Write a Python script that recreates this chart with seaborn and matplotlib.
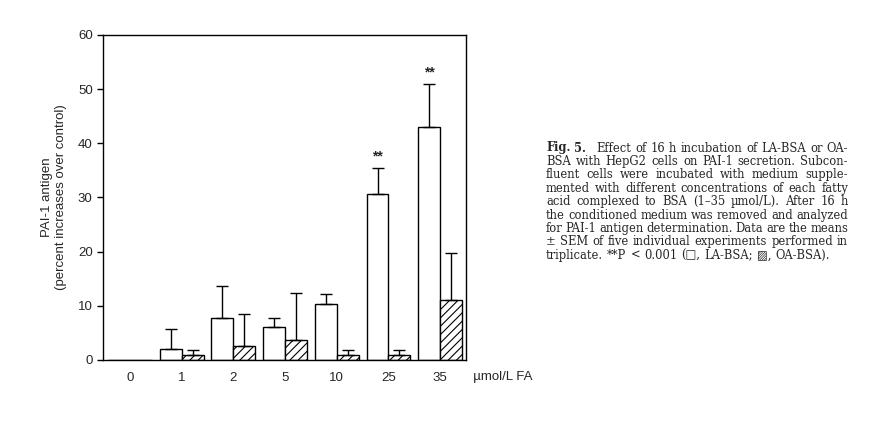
import pandas as pd
import matplotlib
matplotlib.use("Agg")
import matplotlib.pyplot as plt
import seaborn as sns

# data
conc = ["0", "1", "2", "5", "10", "25", "35"]
la_mean = [0, 2.0, 7.7, 6.0, 10.4, 30.6, 43.0]
la_sem = [0, 3.8, 5.9, 1.8, 1.8, 4.8, 7.9]
oa_mean = [0, 1.0, 2.6, 3.7, 1.0, 1.0, 11.1]
oa_sem = [0, 0.9, 5.8, 8.7, 0.9, 0.9, 8.7]
signif = ["", "", "", "", "", "**", "**"]

df = pd.DataFrame({
    "conc": conc * 2,
    "value": la_mean + oa_mean,
    "fa": ["LA-BSA"] * len(conc) + ["OA-BSA"] * len(conc),
})

sns.set_theme(style="ticks")
plt.rcParams["font.family"] = ["Liberation Sans", "DejaVu Sans"]
plt.rcParams["hatch.linewidth"] = 0.8

fig = plt.figure(figsize=(8.81, 4.21), dpi=100)
ax = fig.add_axes([0.117, 0.145, 0.412, 0.772])

sns.barplot(data=df, x="conc", y="value", hue="fa", order=conc,
            palette=["white", "white"], edgecolor="black", linewidth=1.0,
            width=0.85, errorbar=None, legend=False, ax=ax)

# hatch the OA-BSA bars, add one-sided error bars
for cont, sems, hatch in zip(ax.containers, [la_sem, oa_sem], ["", "////"]):
    xs, tops, errs = [], [], []
    for bar, e in zip(cont, sems):
        bar.set_hatch(hatch)
        if e > 0:
            xs.append(bar.get_x() + bar.get_width() / 2)
            tops.append(bar.get_height())
            errs.append(e)
    ax.errorbar(xs, tops, yerr=[[0] * len(errs), errs], fmt="none",
                ecolor="black", elinewidth=1.0, capsize=4, capthick=1.0)

for bar, s, m, e in zip(ax.containers[0], signif, la_mean, la_sem):
    if s:
        ax.text(bar.get_x() + bar.get_width() / 2, m + e + 0.8, s,
                ha="center", va="bottom", fontsize=10, fontweight="bold")

ax.set_xlim(-0.52, 6.5)
ax.set_ylim(0, 60)
ax.set_yticks(range(0, 61, 10))
ax.tick_params(axis="x", length=0, pad=9, labelsize=9.5)
ax.tick_params(axis="y", length=4, width=1, labelsize=9.5, color="black")
for sp in ax.spines.values():
    sp.set_linewidth(1.0)
    sp.set_color("black")
ax.set_xlabel("")
ax.set_ylabel("PAI-1 antigen\n(percent increases over control)", fontsize=9.5, labelpad=8)
ax.text(1.0, -0.053, "  µmol/L FA", transform=ax.transAxes, ha="left", va="center", fontsize=9.5)

# caption, justified line by line
cap_lines = [
    "Fig. 5. Effect of 16 h incubation of LA-BSA or OA-",
    "BSA with HepG2 cells on PAI-1 secretion. Subcon-",
    "fluent cells were incubated with medium supple-",
    "mented with different concentrations of each fatty",
    "acid complexed to BSA (1–35 µmol/L). After 16 h",
    "the conditioned medium was removed and analyzed",
    "for PAI-1 antigen determination. Data are the means",
    "± SEM of five individual experiments performed in",
    "triplicate. **P < 0.001 (□, LA-BSA; ▨, OA-BSA).",
]
serif = ["DejaVu Serif"]
left_px, right_px, top_px, step_px = 546, 848, 148, 13.4
renderer = fig.canvas.get_renderer()
for i, line in enumerate(cap_lines):
    words = line.split(" ")
    y = 1 - (top_px + i * step_px) / 421
    arts = []
    for j, w in enumerate(words):
        bold = i == 0 and j < 2
        t = fig.text(0, y, w, fontfamily=serif, fontsize=8.3, va="center",
                     fontweight="bold" if bold else "normal")
        arts.append(t)
    widths = [t.get_window_extent(renderer).width for t in arts]
    extra = [0.0] * len(words)
    if i == 0:
        extra[1] = 6.0  # wider space after "Fig. 5."
    if i == len(cap_lines) - 1:
        gap = 4.0
    else:
        gap = (right_px - left_px - sum(widths) - sum(extra)) / (len(words) - 1)
    x = left_px
    for t, w, ex in zip(arts, widths, extra):
        t.set_x(x / 881)
        x += w + gap + ex

fig.savefig("out.png", dpi=100)
